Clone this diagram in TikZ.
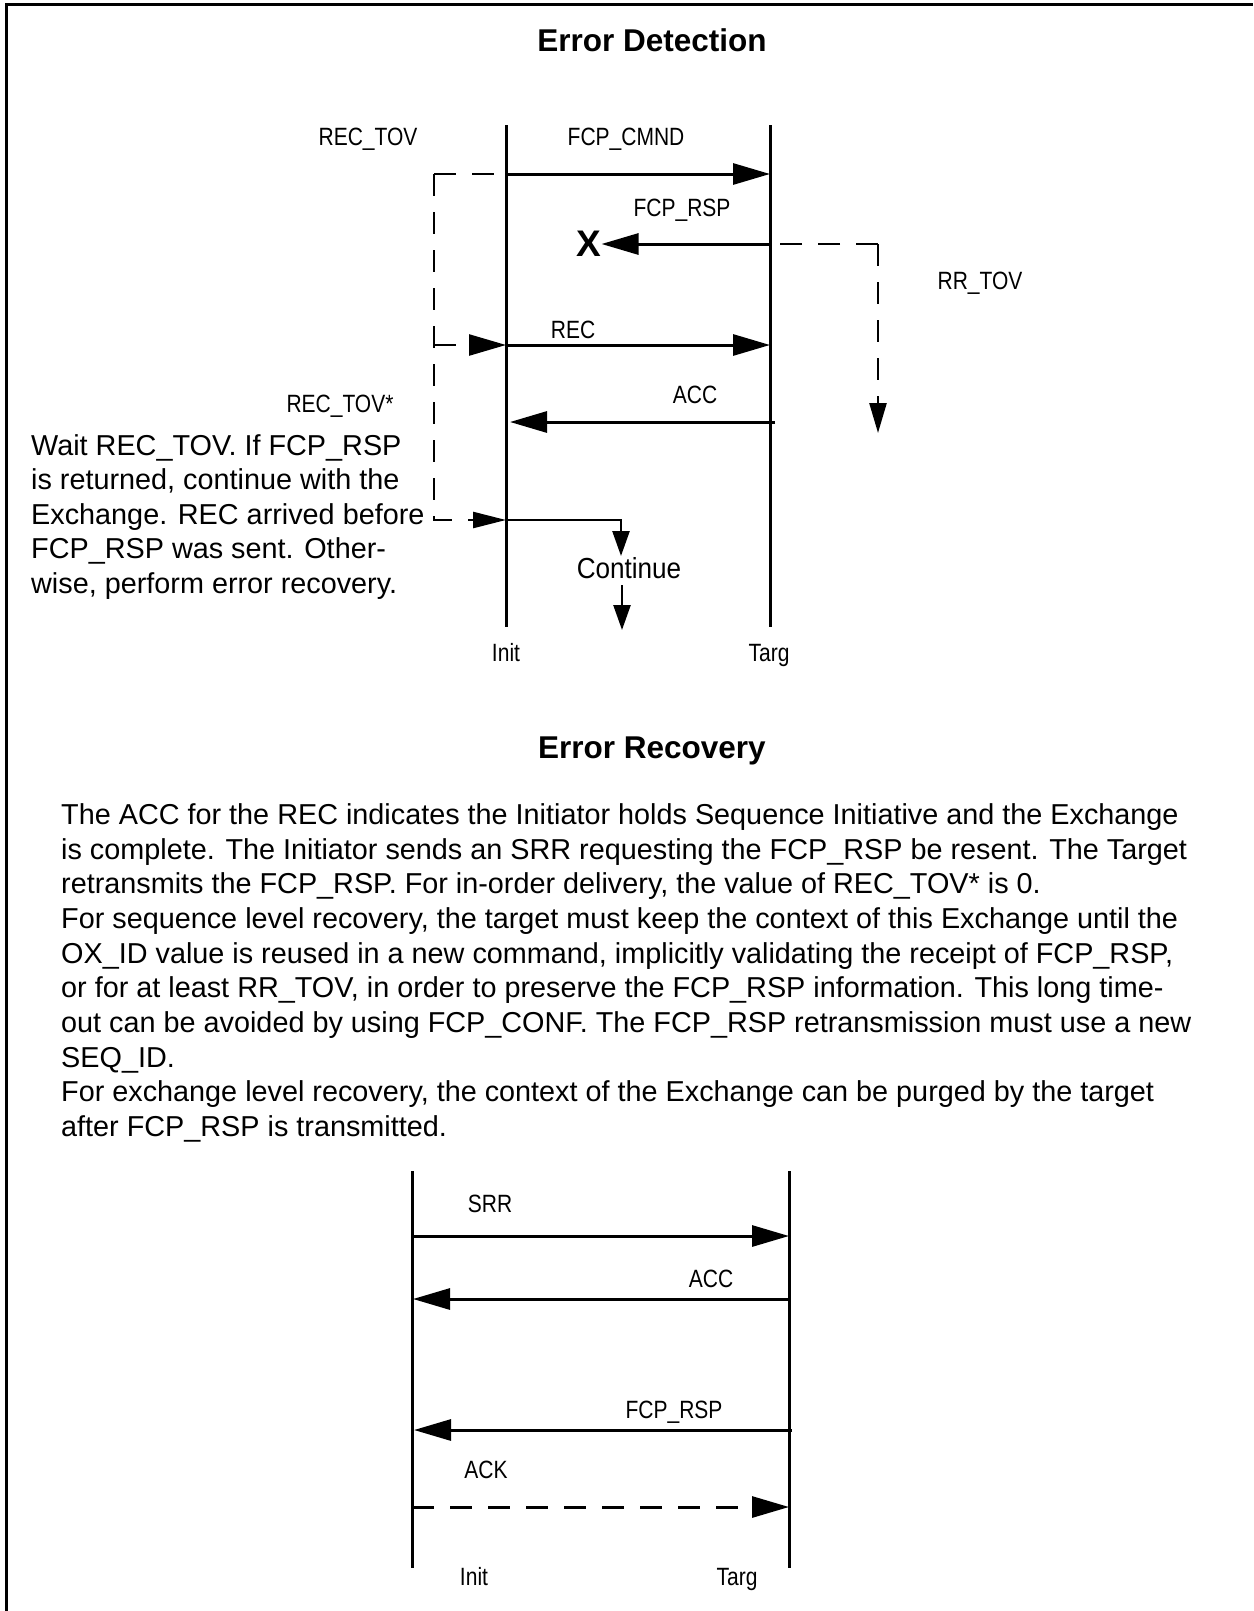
\documentclass[tikz,border=0pt]{standalone}
\usepackage{fontspec}
\setmainfont{Liberation Sans}
\newfontfamily\narrowfont[FakeStretch=0.84]{Liberation Sans}
\newfontfamily\contfont[FakeStretch=0.9]{Liberation Sans}
\usetikzlibrary{arrows.meta}

\tikzset{
  lifeline/.style={line width=3pt},
  msg/.style={line width=3pt, -{Triangle[length=37pt,width=21pt]}},
  timer/.style={line width=2.5pt, dash pattern=on 22pt off 16pt},
  lbl/.style={font=\narrowfont\fontsize{25}{30}\selectfont, inner sep=0pt, anchor=base},
  body/.style={font=\fontsize{28.8}{34.6}\selectfont, inner sep=0pt, anchor=base west},
  heading/.style={font=\bfseries\fontsize{31.5}{36}\selectfont, inner sep=0pt, anchor=base},
}

\begin{document}
\begin{tikzpicture}[x=1pt,y=-1pt]
  \useasboundingbox (0,0) rectangle (1253,1611);
  \draw[line width=3pt] (6,1611) -- (6,5) -- (1253,5);

  % error detection
  \node[heading] (detTitle) at (652,52) {Error Detection};
  \coordinate (initTop) at (506,125);
  \coordinate (initBot) at (506,627);
  \coordinate (targTop) at (770,125);
  \coordinate (targBot) at (770,627);
  \draw[lifeline] (initTop) -- (initBot);
  \draw[lifeline] (targTop) -- (targBot);
  \node[lbl] (initLbl) at (506,661) {Init};
  \node[lbl] (targLbl) at (769,661) {Targ};

  \coordinate (cmndI) at (506,174);
  \coordinate (cmndT) at (770,174);
  \draw[msg] (cmndI) -- (cmndT);
  \node[lbl] (cmndLbl) at (626,145) {FCP\_CMND};

  \coordinate (rspT) at (770,244);
  \node[font=\bfseries\fontsize{37}{40}\selectfont, inner sep=0pt] (lost) at (589,244) {X};
  \draw[msg] (rspT) -- (lost.east);
  \node[lbl] (rspLbl) at (682,216) {FCP\_RSP};

  \coordinate (rrCorner) at (878,244);
  \coordinate (rrEnd) at (878,433);
  \draw[timer] (rrCorner) -- (rspT);
  \draw[timer, -{Triangle[length=30pt,width=17pt]}] (rrCorner) -- (rrEnd);
  \node[lbl] (rrLbl) at (980,289) {RR\_TOV};

  \coordinate (recI) at (506,345);
  \coordinate (recT) at (770,345);
  \draw[msg] (recI) -- (recT);
  \node[lbl] (recLbl) at (573,338) {REC};

  \coordinate (accT) at (775,422);
  \coordinate (accI) at (510,422);
  \draw[msg] (accT) -- (accI);
  \node[lbl] (accLbl) at (695,403) {ACC};

  % REC_TOV timer
  \coordinate (tovTop) at (434,174);
  \coordinate (tovMid) at (434,345);
  \coordinate (tovBot) at (434,520);
  \coordinate (contI) at (506,520);
  \draw[timer] (tovTop) -- (cmndI);
  \draw[timer, -{Triangle[length=33pt,width=16pt]}] (tovTop) -- (tovBot) -- (contI);
  \draw[timer, -{Triangle[length=37pt,width=21pt]}] (tovMid) -- (recI);
  \node[lbl] (tovLbl) at (368,145) {REC\_TOV};
  \node[lbl] (tovStarLbl) at (340,412) {REC\_TOV*};

  % continue
  \coordinate (contTurn) at (621,520);
  \coordinate (contArr) at (621,556);
  \coordinate (contOut) at (622,585);
  \coordinate (contEnd) at (622,630);
  \draw[line width=2.5pt, -{Triangle[length=25pt,width=17pt]}] (contI) -- (contTurn) -- (contArr);
  \node[font=\contfont\fontsize{29}{34}\selectfont, inner sep=0pt, anchor=base] (contLbl) at (629,578) {Continue};
  \draw[line width=2.5pt, -{Triangle[length=25pt,width=17pt]}] (contOut) -- (contEnd);

  \foreach \para [count=\k from 0] in {{Wait REC\_TOV. If FCP\_RSP},
      {is returned, continue with the}, {Exchange. REC arrived before},
      {FCP\_RSP was sent. Other-}, {wise, perform error recovery.}}
    \node[body] (side\k) at (31,{455.4+34.5*\k}) {\para};

  % error recovery
  \node[heading] (recTitle) at (652,758) {Error Recovery};
  \foreach \para [count=\k from 0] in {
      {The ACC for the REC indicates the Initiator holds Sequence Initiative and the Exchange},
      {is complete. The Initiator sends an SRR requesting the FCP\_RSP be resent. The Target},
      {retransmits the FCP\_RSP. For in-order delivery, the value of REC\_TOV* is 0.},
      {For sequence level recovery, the target must keep the context of this Exchange until the},
      {OX\_ID value is reused in a new command, implicitly validating the receipt of FCP\_RSP,},
      {or for at least RR\_TOV, in order to preserve the FCP\_RSP information. This long time-},
      {out can be avoided by using FCP\_CONF. The FCP\_RSP retransmission must use a new},
      {SEQ\_ID.},
      {For exchange level recovery, the context of the Exchange can be purged by the target},
      {after FCP\_RSP is transmitted.}}
    \node[body] (text\k) at (61,{824.4+34.67*\k}) {\para};

  \coordinate (init2Top) at (412,1171);
  \coordinate (init2Bot) at (412,1568);
  \coordinate (targ2Top) at (789,1171);
  \coordinate (targ2Bot) at (789,1568);
  \draw[lifeline] (init2Top) -- (init2Bot);
  \draw[lifeline] (targ2Top) -- (targ2Bot);
  \node[lbl] (init2Lbl) at (474,1585) {Init};
  \node[lbl] (targ2Lbl) at (737,1585) {Targ};

  \coordinate (srrI) at (412,1236);
  \coordinate (srrT) at (789,1236);
  \draw[msg] (srrI) -- (srrT);
  \node[lbl] (srrLbl) at (490,1212) {SRR};

  \coordinate (acc2T) at (789,1299);
  \coordinate (acc2I) at (413,1299);
  \draw[msg] (acc2T) -- (acc2I);
  \node[lbl] (acc2Lbl) at (711,1287) {ACC};

  \coordinate (rsp2T) at (792,1430);
  \coordinate (rsp2I) at (414,1430);
  \draw[msg] (rsp2T) -- (rsp2I);
  \node[lbl] (rsp2Lbl) at (674,1418) {FCP\_RSP};

  \coordinate (ackI) at (412,1507);
  \coordinate (ackT) at (789,1507);
  \draw[timer, line width=3pt, -{Triangle[length=37pt,width=21pt]}] (ackI) -- (ackT);
  \node[lbl] (ackLbl) at (486,1478) {ACK};
\end{tikzpicture}
\end{document}
